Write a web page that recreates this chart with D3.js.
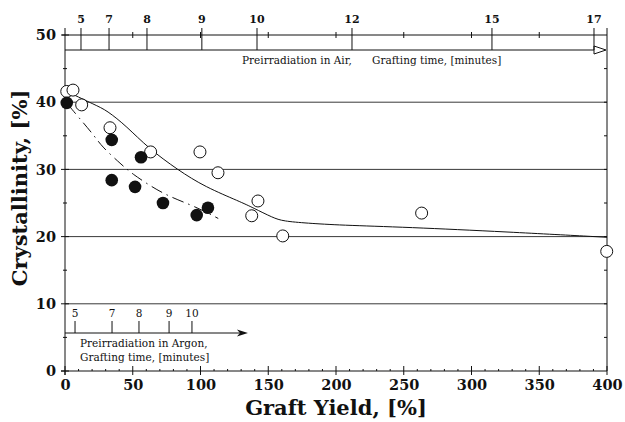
<!DOCTYPE html>
<html>
<head>
<meta charset="utf-8">
<script src="https://cdn.jsdelivr.net/npm/d3@7"></script>
<style>
  body { margin: 0; background: #fff; }
  svg { display: block; }
</style>
</head>
<body>
<svg id="chart"></svg>
<script>
// Data
const airYield = [1.3, 5.9, 12.3, 33.2, 63.2, 99.6, 112.9, 137.8, 142.4, 160.7, 263.2, 399.8];
const airCryst = [41.6, 41.8, 39.6, 36.2, 32.6, 32.6, 29.5, 23.1, 25.3, 20.1, 23.5, 17.8];
const argonYield = [1.3, 34.5, 56.1, 34.5, 51.7, 72.3, 97.2, 105.5];
const argonCryst = [39.9, 34.4, 31.8, 28.4, 27.4, 25.0, 23.2, 24.3];

// hand drawn trend curves
const airFitYield = [1.3, 22.1, 30.8, 45.5, 61.3, 83.4, 103.3, 129.2, 138.7, 153.5, 160.9, 178.6, 202.9, 252.4, 326.2, 400];
const airFitCryst = [41.6, 39.6, 38.8, 36.4, 33.2, 29.9, 27.4, 25.2, 24.3, 22.8, 22.3, 22.0, 21.7, 21.4, 20.7, 19.9];
const argonFitYield = [2.4, 8.6, 22.1, 27.1, 41.8, 49.2, 64.0, 77.5, 95.9, 113.1];
const argonFitCryst = [39.6, 38.1, 34.9, 33.4, 30.7, 29.4, 27.4, 25.9, 24.5, 22.7];

// grafting time scales (minutes -> graft yield)
const airTimes = [5, 7, 8, 9, 10, 12, 15, 17];
const airTimeYield = [11.8, 32.5, 60.5, 101, 141.7, 211.8, 315.1, 390.4];
const argonTimes = [5, 7, 8, 9, 10];
const argonTimeYield = [7.4, 34.7, 54.6, 76.8, 93.7];

const xTicks = [0, 50, 100, 150, 200, 250, 300, 350, 400];
const yTicks = [0, 10, 20, 30, 40, 50];

const width = 625, height = 422;
const serif = "'DejaVu Serif', 'Liberation Serif', serif";

const svg = d3.select('#chart')
    .attr('width', width)
    .attr('height', height);

svg.append('rect').attr('width', width).attr('height', height).attr('fill', '#fff');

const x = d3.scaleLinear().domain([0, 400]).range([65, 607]);
const y = d3.scaleLinear().domain([0, 50]).range([371, 35]);

// horizontal grid lines
svg.append('g')
    .selectAll('line')
    .data(yTicks.filter(d => d > 0 && d < 50))
    .join('line')
    .attr('x1', x(0)).attr('x2', x(400))
    .attr('y1', d => y(d)).attr('y2', d => y(d))
    .attr('stroke', '#222')
    .attr('stroke-width', 0.9);

// frame: top line (50), right side, extended verticals
svg.append('line')
    .attr('x1', x(0) - 3).attr('x2', x(400))
    .attr('y1', y(50)).attr('y2', y(50))
    .attr('stroke', '#111');
svg.append('line')
    .attr('x1', x(0)).attr('x2', x(0))
    .attr('y1', 28).attr('y2', y(0) + 4)
    .attr('stroke', '#111');
svg.append('line')
    .attr('x1', x(400)).attr('x2', x(400))
    .attr('y1', 28).attr('y2', y(0))
    .attr('stroke', '#111');

// bottom axis
const xAxis = svg.append('g')
    .attr('transform', `translate(0,${y(0)})`)
    .call(d3.axisBottom(x).tickValues(xTicks).tickSize(0).tickPadding(9).tickFormat(d3.format('d')));
xAxis.select('.domain').attr('stroke', '#111').attr('d', `M${x(0) - 4},0H${x(400)}`);
xAxis.selectAll('text')
    .attr('font-family', serif).attr('font-weight', 'bold').attr('font-size', 14.5).attr('fill', '#111');

// bottom ticks, major crossing the axis, minor small
svg.append('g').selectAll('line')
    .data(xTicks)
    .join('line')
    .attr('x1', d => x(d)).attr('x2', d => x(d))
    .attr('y1', y(0) - 5).attr('y2', y(0) + 4)
    .attr('stroke', '#111');
svg.append('g').selectAll('line')
    .data(d3.range(10, 400, 10).filter(d => d % 50 !== 0))
    .join('line')
    .attr('x1', d => x(d)).attr('x2', d => x(d))
    .attr('y1', y(0) - 2).attr('y2', y(0))
    .attr('stroke', '#111');

// left axis
const yAxis = svg.append('g')
    .attr('transform', `translate(${x(0)},0)`)
    .call(d3.axisLeft(y).tickValues(yTicks).tickSize(0).tickPadding(9));
yAxis.select('.domain').remove();
yAxis.selectAll('text')
    .attr('font-family', serif).attr('font-weight', 'bold').attr('font-size', 14.5).attr('fill', '#111');
svg.append('g').selectAll('line')
    .data(yTicks)
    .join('line')
    .attr('x1', x(0) - 4).attr('x2', x(0) + 4)
    .attr('y1', d => y(d)).attr('y2', d => y(d))
    .attr('stroke', '#111');
svg.append('g').selectAll('line')
    .data(d3.range(5, 50, 10))
    .join('line')
    .attr('x1', x(0) - 2).attr('x2', x(0) + 2)
    .attr('y1', d => y(d)).attr('y2', d => y(d))
    .attr('stroke', '#111');
// right side ticks
svg.append('g').selectAll('line')
    .data(d3.range(5, 50, 5))
    .join('line')
    .attr('x1', x(400) - 3).attr('x2', x(400))
    .attr('y1', d => y(d)).attr('y2', d => y(d))
    .attr('stroke', '#111');

// top: graft yield ticks on the 50% line
svg.append('g').selectAll('line')
    .data(xTicks.slice(1, -1))
    .join('line')
    .attr('x1', d => x(d)).attr('x2', d => x(d))
    .attr('y1', y(50) - 3).attr('y2', y(50) + 3)
    .attr('stroke', '#111');

// Air grafting time axis
const airLineY = 50;
svg.append('line')
    .attr('x1', x(0)).attr('x2', x(400) - 12)
    .attr('y1', airLineY).attr('y2', airLineY)
    .attr('stroke', '#111');
svg.append('path')
    .attr('d', `M${x(400) - 13},${airLineY - 4}L${x(400) - 1},${airLineY}L${x(400) - 13},${airLineY + 4}Z`)
    .attr('fill', '#fff')
    .attr('stroke', '#111');
svg.append('g').selectAll('line')
    .data(airTimeYield)
    .join('line')
    .attr('x1', d => x(d)).attr('x2', d => x(d))
    .attr('y1', 28).attr('y2', airLineY)
    .attr('stroke', '#111');
svg.append('g').selectAll('text')
    .data(airTimes)
    .join('text')
    .attr('x', (d, i) => x(airTimeYield[i]))
    .attr('y', 23)
    .attr('text-anchor', 'middle')
    .attr('font-family', serif).attr('font-weight', 'bold').attr('font-size', 11)
    .attr('fill', '#111')
    .text(d => d);
svg.append('text')
    .attr('x', 242).attr('y', 64)
    .attr('font-family', serif).attr('font-size', 10.5).attr('fill', '#111')
    .text('Preirradiation in Air,');
svg.append('text')
    .attr('x', 372).attr('y', 64)
    .attr('font-family', serif).attr('font-size', 10.5).attr('fill', '#111')
    .text('Grafting time, [minutes]');

// Argon grafting time axis
const argonLineY = 333;
svg.append('line')
    .attr('x1', x(0)).attr('x2', x(135) - 8)
    .attr('y1', argonLineY).attr('y2', argonLineY)
    .attr('stroke', '#111');
svg.append('path')
    .attr('d', `M${x(135) - 11},${argonLineY - 3.5}L${x(135)},${argonLineY}L${x(135) - 11},${argonLineY + 3.5}L${x(135) - 8},${argonLineY}Z`)
    .attr('fill', '#111');
svg.append('g').selectAll('line')
    .data(argonTimeYield)
    .join('line')
    .attr('x1', d => x(d)).attr('x2', d => x(d))
    .attr('y1', 321).attr('y2', argonLineY)
    .attr('stroke', '#111');
svg.append('g').selectAll('text')
    .data(argonTimes)
    .join('text')
    .attr('x', (d, i) => x(argonTimeYield[i]))
    .attr('y', 317)
    .attr('text-anchor', 'middle')
    .attr('font-family', serif).attr('font-size', 10.5)
    .attr('fill', '#111')
    .text(d => d);
svg.append('text')
    .attr('x', 80).attr('y', 347)
    .attr('font-family', serif).attr('font-size', 10.5).attr('fill', '#111')
    .text('Preirradiation in Argon,');
svg.append('text')
    .attr('x', 80).attr('y', 361)
    .attr('font-family', serif).attr('font-size', 10.5).attr('fill', '#111')
    .text('Grafting time, [minutes]');

// trend curves
const line = d3.line()
    .x(d => x(d[0]))
    .y(d => y(d[1]))
    .curve(d3.curveBasis);

svg.append('path')
    .datum(d3.zip(airFitYield, airFitCryst))
    .attr('d', line)
    .attr('fill', 'none')
    .attr('stroke', '#111')
    .attr('stroke-width', 1);

svg.append('path')
    .datum(d3.zip(argonFitYield, argonFitCryst))
    .attr('d', line)
    .attr('fill', 'none')
    .attr('stroke', '#111')
    .attr('stroke-width', 1)
    .attr('stroke-dasharray', '12,5,1.5,5');

// data points
svg.append('g').selectAll('circle')
    .data(d3.zip(airYield, airCryst))
    .join('circle')
    .attr('cx', d => x(d[0]))
    .attr('cy', d => y(d[1]))
    .attr('r', 6)
    .attr('fill', '#fff')
    .attr('stroke', '#111')
    .attr('stroke-width', 1);

svg.append('g').selectAll('circle')
    .data(d3.zip(argonYield, argonCryst))
    .join('circle')
    .attr('cx', d => x(d[0]))
    .attr('cy', d => y(d[1]))
    .attr('r', 6.3)
    .attr('fill', '#111');

// axis titles
svg.append('text')
    .attr('x', x(200))
    .attr('y', 415)
    .attr('text-anchor', 'middle')
    .attr('font-family', serif).attr('font-weight', 'bold').attr('font-size', 21)
    .attr('fill', '#111')
    .text('Graft Yield, [%]');

svg.append('text')
    .attr('transform', 'translate(27,188) rotate(-90)')
    .attr('text-anchor', 'middle')
    .attr('font-family', serif).attr('font-weight', 'bold').attr('font-size', 21)
    .attr('fill', '#111')
    .text('Crystallinity, [%]');
</script>
</body>
</html>
